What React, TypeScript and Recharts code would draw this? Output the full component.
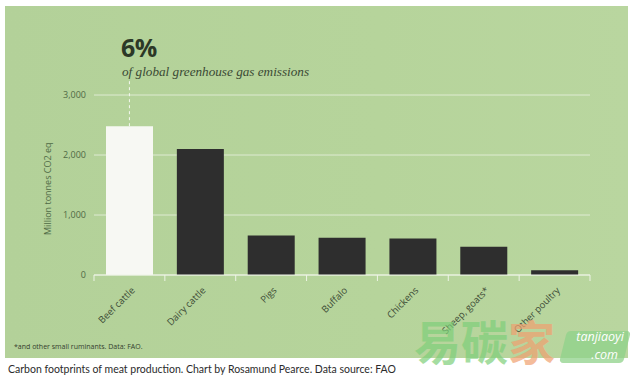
import React from 'react';
import { BarChart, Bar, XAxis, YAxis, CartesianGrid, Cell, ReferenceLine } from 'recharts';

const categories = ['Beef cattle', 'Dairy cattle', 'Pigs', 'Buffalo', 'Chickens', 'Sheep, goats*', 'Other poultry'];
const emissions = [2480, 2100, 660, 620, 610, 470, 80];
const yTicks = [0, 1000, 2000, 3000];

const data = categories.map((name, i) => ({ name, value: emissions[i] }));

const PLOT_LEFT = 94;
const PLOT_RIGHT = 590;
const BAND = (PLOT_RIGHT - PLOT_LEFT) / categories.length;

const XTick = (props: any) => {
  const { x, y, payload, index } = props;
  const isLast = index === categories.length - 1;
  return (
    <g>
      <line x1={x - BAND / 2} x2={x - BAND / 2} y1={y - 8} y2={y - 2} stroke="#eef4e6" />
      {isLast && <line x1={x + BAND / 2} x2={x + BAND / 2} y1={y - 8} y2={y - 2} stroke="#eef4e6" />}
      <text
        x={x + 6}
        y={y + 8}
        textAnchor="end"
        transform={`rotate(-45, ${x + 6}, ${y + 8})`}
        fontSize={9.5}
        fontFamily="Open Sans"
        fill="#3d4c36"
      >
        {payload.value}
      </text>
    </g>
  );
};

const App: React.FC = () => {
  return (
    <div style={{ position: 'absolute', left: 0, top: 0, width: 637, height: 381, background: '#fff', overflow: 'hidden' }}>
      <div style={{ position: 'absolute', left: 5, top: 6, width: 623, height: 352, background: 'linear-gradient(90deg, #b3d199 0%, #b6d49b 60%, #b9d69f 100%)' }} />

      <div style={{ position: 'absolute', left: 121, top: 30, fontFamily: 'Open Sans', fontWeight: 700, fontSize: 25, color: '#2c3827', letterSpacing: -0.5 }}>6%</div>
      <div style={{ position: 'absolute', left: 122, top: 64, fontFamily: 'Liberation Serif', fontStyle: 'italic', fontSize: 13.2, color: '#3a4934' }}>
        of global greenhouse gas emissions
      </div>

      <div style={{ position: 'absolute', left: 0, top: 0 }}>
        <BarChart
          width={637}
          height={381}
          data={data}
          margin={{ top: 95, right: 637 - PLOT_RIGHT, bottom: 46, left: PLOT_LEFT - 40 }}
          barCategoryGap={12}
        >
          <CartesianGrid horizontal vertical={false} stroke="#e9f1e0" strokeOpacity={0.8} />
          <XAxis
            dataKey="name"
            interval={0}
            height={60}
            axisLine={{ stroke: '#eef4e6' }}
            tickLine={false}
            tick={<XTick />}
          />
          <YAxis
            width={40}
            domain={[0, 3000]}
            ticks={yTicks}
            axisLine={false}
            tickLine={false}
            tickFormatter={(v: number) => v.toLocaleString('en-US')}
            tick={{ fontSize: 9, fill: '#4f6a45', fontFamily: 'Open Sans' }}
            label={{ value: 'Million tonnes CO2 eq', angle: -90, position: 'insideLeft', offset: -6, dy: 50, style: { fontSize: 9, fill: '#4f6a45', fontFamily: 'Open Sans' } }}
          />
          <ReferenceLine
            segment={[{ x: 'Beef cattle', y: 2480 }, { x: 'Beef cattle', y: 3250 }]}
            stroke="#f4f8ef"
            strokeDasharray="3 3"
            ifOverflow="visible"
          />
          <Bar dataKey="value" isAnimationActive={false}>
            {data.map((d, i) => (
              <Cell key={d.name} fill={i === 0 ? '#f7f8f3' : '#2e2e2e'} />
            ))}
          </Bar>
        </BarChart>
      </div>

      <div style={{ position: 'absolute', left: 14, top: 342, fontFamily: 'Open Sans', fontSize: 7, color: '#33402e' }}>
        *and other small ruminants. Data: FAO.
      </div>

      {/* watermark */}
      <div style={{ position: 'absolute', left: 414, top: 312, fontFamily: 'Noto Sans CJK SC', fontWeight: 700, fontSize: 47, lineHeight: '56px', opacity: 0.7, whiteSpace: 'nowrap' }}>
        <span style={{ color: '#7fcf7a' }}>易碳</span>
        <span style={{ color: '#f0a070' }}>家</span>
      </div>
      <div style={{ position: 'absolute', left: 563, top: 331, width: 64, height: 32, background: '#8fd28a', opacity: 0.75, transform: 'skewX(-14deg)', borderRadius: 4 }} />
      <div style={{ position: 'absolute', left: 562, top: 330, fontFamily: 'Open Sans', fontStyle: 'italic', fontSize: 12.5, color: '#fff', lineHeight: '14px', textAlign: 'right', width: 62 }}>
        tanjiaoyi
      </div>
      <div style={{ position: 'absolute', left: 562, top: 348, fontFamily: 'Open Sans', fontStyle: 'italic', fontSize: 12.5, color: '#fff', lineHeight: '14px', textAlign: 'right', width: 56 }}>
        .com
      </div>

      <div style={{ position: 'absolute', left: 8, top: 363, fontFamily: 'Lato', fontSize: 10.5, color: '#2b2b2b', whiteSpace: 'nowrap' }}>
        Carbon footprints of meat production. Chart by Rosamund Pearce. Data source: FAO
      </div>
    </div>
  );
};

export default App;
